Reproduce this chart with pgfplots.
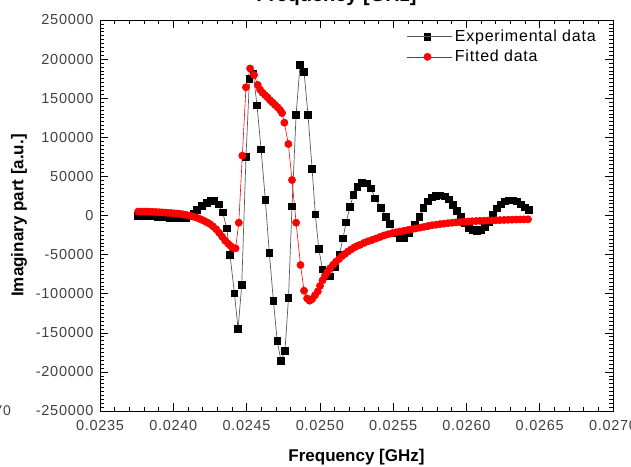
\documentclass[border=0pt]{standalone}
\usepackage{fontspec}
\setmainfont{Liberation Sans}
\newfontfamily\spacedfont[LetterSpace=5]{Liberation Sans}
\usepackage{pgfplots}
\pgfplotsset{compat=1.18}

\begin{document}
\begin{tikzpicture}
\useasboundingbox (0,0) rectangle (631pt,466pt);

% cropped remnants of neighbouring panels
\node[anchor=base east, font=\bfseries\fontsize{20}{24}\selectfont] at (420pt,464pt) {Frequency [GHz]};
\node[anchor=east, inner sep=0pt, text=black!75, font=\spacedfont\fontsize{14}{16}\selectfont] at (11pt,55pt) {0.0270};

\begin{axis}[
  at={(100pt,55pt)}, anchor=south west,
  scale only axis, width=513pt, height=391pt,
  xmin=0.0235, xmax=0.0270, ymin=-250000, ymax=250000,
  scaled ticks=false,
  xtick={0.0235,0.0240,0.0245,0.0250,0.0255,0.0260,0.0265,0.0270},
  xticklabels={0.0235,0.0240,0.0245,0.0250,0.0255,0.0260,0.0265,0.0270},
  ytick={-250000,-200000,-150000,-100000,-50000,0,50000,100000,150000,200000,250000},
  yticklabels={-250000,-200000,-150000,-100000,-50000,0,50000,100000,150000,200000,250000},
  minor x tick num=4, minor y tick num=9,
  tick align=inside,
  major tick length=8pt, minor tick length=4pt,
  axis line style={line width=0.8pt},
  every tick/.style={black, line width=0.6pt},
  tick label style={font=\spacedfont\fontsize{14.5}{16}\selectfont, text=black!75},
  xticklabel style={yshift=-6pt},
  yticklabel style={xshift=-3pt},
  xlabel={Frequency [GHz]},
  ylabel={Imaginary part [a.u.]},
  label style={font=\bfseries\fontsize{17}{20}\selectfont},
  xlabel style={at={(axis description cs:0.5,-0.118)}, anchor=center},
  ylabel style={at={(axis description cs:-0.158,0.5)}, anchor=center},
  legend style={at={(axis description cs:1,1)}, anchor=north east,
    xshift=-12pt, yshift=-6pt, draw=none, fill=none,
    font=\spacedfont\fontsize{16}{18}\selectfont, row sep=3pt},
  legend cell align=left,
  legend image code/.code={
    \draw[mark repeat=2, mark phase=2, #1] plot coordinates {(0pt,0pt) (20pt,0pt) (40pt,0pt)};
    \path (0pt,0pt) -- (45pt,0pt);
  },
]

% measured response
\addplot[color=black!65, line width=0.7pt, mark=square*, mark size=3.3pt,
  mark options={fill=black, draw=black, solid}] table {
x y
0.023760 -500
0.023787 -600
0.023814 -800
0.023841 -1000
0.023869 -1200
0.023896 -1500
0.023923 -2000
0.023951 -2500
0.023978 -3000
0.024005 -3300
0.024032 -3500
0.024060 -3500
0.024087 -3000
0.024114 -1000
0.024142 3000
0.024162 7000
0.024193 12000
0.024227 16500
0.024258 18500
0.024281 18500
0.024309 14500
0.024337 4100
0.024365 -16400
0.024387 -50500
0.024417 -99500
0.024442 -145000
0.024467 -89000
0.024496 75000
0.024520 175000
0.024546 181000
0.024571 141000
0.024599 84700
0.024628 20000
0.024655 -47500
0.024683 -109000
0.024709 -160500
0.024735 -186000
0.024762 -173000
0.024786 -105500
0.024810 11500
0.024838 129000
0.024865 193000
0.024892 184000
0.024919 129000
0.024947 60000
0.024969 1500
0.024993 -43000
0.025018 -69000
0.025042 -76000
0.025070 -78000
0.025104 -65500
0.025133 -50500
0.025158 -29000
0.025179 -8700
0.025206 11300
0.025228 26200
0.025256 36800
0.025286 42000
0.025320 41200
0.025349 34800
0.025377 22000
0.025417 10000
0.025452 -1500
0.025479 -10900
0.025508 -22800
0.025542 -28400
0.025576 -28400
0.025611 -22800
0.025649 -12100
0.025679 -1500
0.025706 10000
0.025735 18000
0.025763 23000
0.025793 25500
0.025822 26000
0.025851 24500
0.025879 20500
0.025909 14000
0.025936 6000
0.025963 -2000
0.025991 -10000
0.026018 -16000
0.026045 -18500
0.026072 -19500
0.026100 -18500
0.026127 -15000
0.026154 -8000
0.026182 1000
0.026209 9000
0.026236 14500
0.026263 18000
0.026291 19500
0.026318 19500
0.026345 18000
0.026373 14500
0.026400 10500
0.026427 7000
};
\addlegendentry{Experimental data}

% model fit
\addplot[color=red, line width=0.6pt, mark=*, mark size=3.6pt,
  mark options={fill=red, draw=red, solid}] table {
x y
0.023760 5000
0.023780 5000
0.023800 5000
0.023821 5000
0.023841 4800
0.023862 4600
0.023882 4400
0.023903 4200
0.023923 4000
0.023944 3700
0.023964 3400
0.023985 3100
0.024005 2800
0.024026 2500
0.024046 2000
0.024067 1500
0.024087 800
0.024107 0
0.024128 -1000
0.024148 -2200
0.024169 -3500
0.024189 -5000
0.024210 -6800
0.024230 -8800
0.024251 -11000
0.024271 -14000
0.024292 -17500
0.024312 -22000
0.024333 -27000
0.024353 -32000
0.024374 -36000
0.024391 -39000
0.024408 -41500
0.024425 -42000
0.024447 -9200
0.024471 76500
0.024496 164000
0.024524 188000
0.024551 179700
0.024576 167000
0.024592 161000
0.024609 157000
0.024626 154000
0.024643 151000
0.024660 147500
0.024677 144500
0.024694 141500
0.024711 138500
0.024728 135000
0.024742 131000
0.024758 118700
0.024785 91400
0.024810 45400
0.024838 -9200
0.024868 -63300
0.024892 -96200
0.024913 -106000
0.024930 -109000
0.024947 -107000
0.024967 -102000
0.024986 -97000
0.025001 -90000
0.025018 -83000
0.025035 -77000
0.025052 -72000
0.025070 -67500
0.025090 -63000
0.025110 -59000
0.025131 -55500
0.025151 -52000
0.025172 -49000
0.025192 -46000
0.025213 -43500
0.025233 -41000
0.025254 -39000
0.025274 -37500
0.025301 -35000
0.025329 -33000
0.025356 -31300
0.025383 -29500
0.025411 -27500
0.025438 -25500
0.025465 -24000
0.025492 -22800
0.025520 -21500
0.025547 -20500
0.025574 -19500
0.025602 -18500
0.025629 -17500
0.025656 -16500
0.025684 -15500
0.025711 -14500
0.025738 -13500
0.025765 -12500
0.025793 -11800
0.025820 -11000
0.025847 -10400
0.025875 -9800
0.025902 -9300
0.025929 -8800
0.025956 -8400
0.025984 -8000
0.026011 -7700
0.026038 -7400
0.026066 -7100
0.026093 -6900
0.026120 -6700
0.026147 -6500
0.026175 -6300
0.026202 -6100
0.026229 -5900
0.026257 -5700
0.026284 -5500
0.026311 -5400
0.026339 -5200
0.026366 -5100
0.026393 -5000
0.026420 -4900
};
\addlegendentry{Fitted data}

\end{axis}
\end{tikzpicture}
\end{document}
